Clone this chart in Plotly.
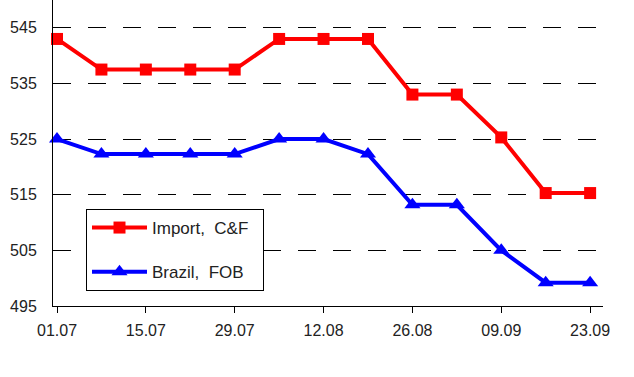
import plotly.graph_objects as go

dates = ["01.07", "08.07", "15.07", "22.07", "29.07", "05.08", "12.08",
         "19.08", "26.08", "02.09", "09.09", "16.09", "23.09"]
import_cf = [543, 537.5, 537.5, 537.5, 537.5, 543, 543, 543, 533, 533, 525.3, 515.3, 515.3]
brazil_fob = [525, 522.3, 522.3, 522.3, 522.3, 525, 525, 522.3, 513.2, 513.2, 505, 499.2, 499.2]
y_ticks = [495, 505, 515, 525, 535, 545]

xi = list(range(len(dates)))

fig = go.Figure()
fig.add_trace(go.Scatter(
    x=xi, y=import_cf, name="Import,  C&F\u00a0\u00a0", mode="lines+markers",
    line=dict(color="#FF0000", width=4),
    marker=dict(symbol="square", size=12, color="#FF0000"),
    legendgroup="a", cliponaxis=False))
fig.add_trace(go.Scatter(
    x=xi, y=brazil_fob, name="Brazil,  FOB", mode="lines+markers",
    line=dict(color="#0000FF", width=4),
    marker=dict(symbol="triangle-up", size=14, color="#0000FF"),
    legendgroup="b", cliponaxis=False))

fig.update_layout(
    width=634, height=377,
    margin=dict(l=53, r=31, t=0, b=71),
    paper_bgcolor="white", plot_bgcolor="white",
    font=dict(family="Liberation Sans, Arial, sans-serif", size=16, color="#222222"),
    showlegend=True,
    legend=dict(x=0.06, y=0.317, xanchor="left", yanchor="top",
                bordercolor="black", borderwidth=1, bgcolor="white",
                tracegroupgap=19, itemwidth=55, font=dict(size=17, color="#222222")),
    xaxis=dict(range=[-0.09, 12.29], tickvals=xi[::2], ticktext=dates[::2],
               showgrid=False, zeroline=False, showline=True, linecolor="black",
               linewidth=1, ticks="outside", ticklen=6, tickcolor="black",
               ticklabelstandoff=4, tickfont=dict(size=16)),
    yaxis=dict(range=[495, 550], tickvals=y_ticks, showgrid=True,
               gridcolor="black", gridwidth=1, griddash="18px,17px",
               zeroline=False, showline=True, linecolor="black", linewidth=1,
               ticks="", ticklabelstandoff=12, tickfont=dict(size=16)),
)

fig.write_html("out.html", config={"displayModeBar": False},
               post_script="document.body.style.margin='0';document.body.style.overflow='hidden';")
